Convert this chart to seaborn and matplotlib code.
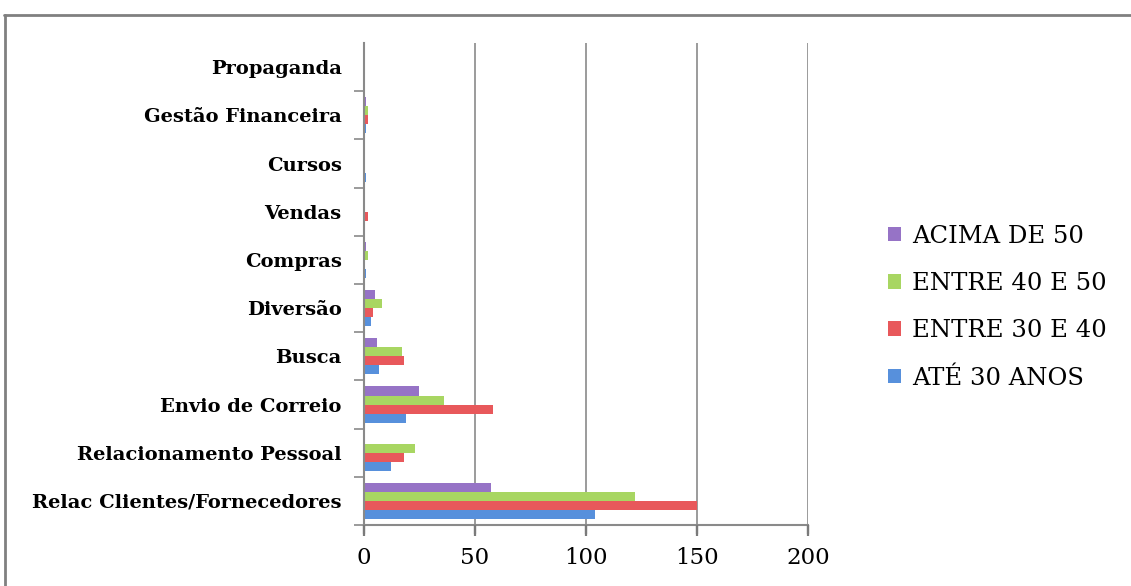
import matplotlib
matplotlib.use("Agg")
import matplotlib.pyplot as plt
import matplotlib.lines as mlines
import numpy as np
import pandas as pd
import seaborn as sns

categories = ["Propaganda", "Gestão Financeira", "Cursos", "Vendas", "Compras",
              "Diversão", "Busca", "Envio de Correio", "Relacionamento Pessoal",
              "Relac Clientes/Fornecedores"]
series = ["ACIMA DE 50", "ENTRE 40 E 50", "ENTRE 30 E 40", "ATÉ 30 ANOS"]
acima_50 = [0, 1, 0, 0, 1, 5, 6, 25, 0, 57]
entre_40_50 = [0, 2, 0, 0, 2, 8, 17, 36, 23, 122]
entre_30_40 = [0, 2, 0, 2, 0, 4, 18, 58, 18, 150]
ate_30 = [0, 1, 1, 0, 1, 3, 7, 19, 12, 104]
x_ticks = [0, 50, 100, 150, 200]
colors = ["#9673C6", "#A8D662", "#E8585B", "#5790DC"]

values = [acima_50, entre_40_50, entre_30_40, ate_30]
rows = []
for s, vals in zip(series, values):
    for c, v in zip(categories, vals):
        rows.append({"Categoria": c, "Faixa": s, "Valor": v})
df = pd.DataFrame(rows)

sns.set_style("white")
plt.rcParams["font.family"] = ["DejaVu Serif"]
plt.rcParams["text.color"] = "black"
plt.rcParams["ytick.left"] = True

fig = plt.figure(figsize=(11.31, 5.86), dpi=100)
ax = fig.add_axes([0.3218, 0.104, 0.3926, 0.8225])

sns.barplot(data=df, y="Categoria", x="Valor", hue="Faixa", order=categories,
            hue_order=series, palette=colors, orient="h", width=0.75,
            ax=ax, saturation=1, edgecolor="none")

ax.set_xlim(0, 200)
ax.set_ylim(len(categories) - 0.5, -0.5)
ax.set_xticks(x_ticks)
ax.set_xticklabels([str(t) for t in x_ticks], fontsize=16.5, color="black")
ax.set_xlabel("")
ax.set_ylabel("")
ax.xaxis.grid(True, color="#8a8a8a", linewidth=1.2)
ax.yaxis.grid(False)
ax.set_axisbelow(True)
for sp in ["top", "right"]:
    ax.spines[sp].set_visible(False)
for sp in ["left", "bottom"]:
    ax.spines[sp].set_color("#8a8a8a")
    ax.spines[sp].set_linewidth(1.5)
ax.tick_params(axis="x", which="major", bottom=True, direction="out", length=8,
               width=1.6, color="#7a7a7a", pad=8)
# outward tick marks below the x axis at each tick value
ax.vlines(x_ticks, 0, -0.018, transform=ax.get_xaxis_transform(), clip_on=False,
          colors="#7a7a7a", linewidth=1.6, zorder=5)
ax.tick_params(axis="y", which="major", left=False, length=0, pad=16)
ax.set_yticks(np.arange(len(categories)) + 0.5, minor=True)
ax.tick_params(axis="y", which="minor", left=True, direction="out", length=7,
               color="#8a8a8a", width=1.2)
for lab in ax.get_yticklabels():
    lab.set_fontsize(14)
    lab.set_fontweight("bold")
    lab.set_color("black")

handles, labels = ax.get_legend_handles_labels()
leg = ax.legend(handles, labels, loc="center left", bbox_to_anchor=(1.13, 0.452),
                frameon=False, fontsize=17.5, labelspacing=1.0, handlelength=0.55,
                handleheight=0.55, handletextpad=0.45)
for t in leg.get_texts():
    t.set_color("black")

fig.add_artist(mlines.Line2D([4 / 1131, 1.0], [1 - 15 / 586, 1 - 15 / 586],
                             color="#808080", linewidth=2, transform=fig.transFigure))
fig.add_artist(mlines.Line2D([5 / 1131, 5 / 1131], [0, 1 - 15 / 586],
                             color="#808080", linewidth=2, transform=fig.transFigure))

fig.savefig("out.png", dpi=100)
